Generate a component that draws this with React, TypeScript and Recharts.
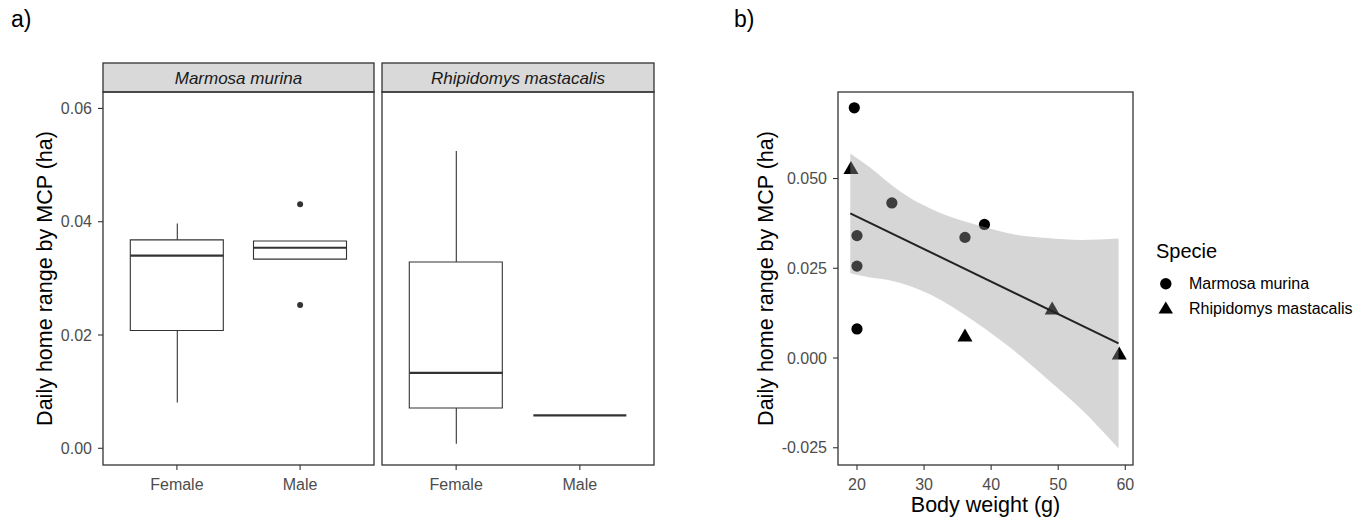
import React from 'react';
import { ComposedChart, Bar, Scatter, Area, Line, XAxis, YAxis } from 'recharts';

const FONT = '"Liberation Sans", Arial, sans-serif';
const INK = '#333333';
const TICK_TEXT = '#4D4D4D';

// panel a) - boxplots by sex, one facet per species
const sexes = ['Female', 'Male'];
const boxTicks = [0, 0.02, 0.04, 0.06];

const marmosaLow = [0.0081, 0.0334];
const marmosaQ1 = [0.0208, 0.0334];
const marmosaMedian = [0.034, 0.0354];
const marmosaQ3 = [0.0368, 0.0366];
const marmosaHigh = [0.0397, 0.0366];
const marmosaOutlierSex = ['Male', 'Male'];
const marmosaOutliers = [0.0431, 0.0253];

const rhipidomysLow = [0.0008, 0.0058];
const rhipidomysQ1 = [0.0071, 0.0058];
const rhipidomysMedian = [0.0133, 0.0058];
const rhipidomysQ3 = [0.0329, 0.0058];
const rhipidomysHigh = [0.0525, 0.0058];

// panel b) - range vs body weight
const marmosaWeight = [19.6, 25.2, 20, 20, 20, 36.1, 39];
const marmosaRange = [0.0697, 0.0432, 0.0341, 0.0256, 0.0081, 0.0336, 0.0372];
const rhipidomysWeight = [19.1, 36.1, 49.1, 59.1];
const rhipidomysRange = [0.0525, 0.0058, 0.0133, 0.0008];

const fitWeight = [19, 59];
const fitRange = [0.0403, 0.0041];

const bandWeight = [19, 22, 25, 28, 31, 34, 38.5, 43.3, 48.4, 53.4, 59];
const bandLow = [0.0236, 0.0224, 0.0216, 0.02, 0.0176, 0.0145, 0.0089, 0.0022, -0.0059, -0.0142, -0.0252];
const bandHigh = [0.057, 0.053, 0.0484, 0.0445, 0.0416, 0.0393, 0.0368, 0.0345, 0.0334, 0.0329, 0.0333];

const weightTicks = [20, 30, 40, 50, 60];
const rangeTicks = [-0.025, 0, 0.025, 0.05];

const boxRows = (low: number[], q1: number[], med: number[], q3: number[], high: number[]) =>
  sexes.map((sex, i) => ({ sex, whisker: [low[i], high[i]], box: [q1[i], q3[i]], median: med[i] }));

const WhiskerShape = (p: any) => {
  const cx = p.x + p.width / 2;
  return <line x1={cx} x2={cx} y1={p.y} y2={p.y + p.height} stroke={INK} strokeWidth={1.1} />;
};

const MedianShape = (p: any) => (
  <line x1={p.cx - 46.5} x2={p.cx + 46.5} y1={p.cy} y2={p.cy} stroke={INK} strokeWidth={2.2} />
);

const OutlierShape = (p: any) => <circle cx={p.cx} cy={p.cy} r={3} fill={INK} />;

const CircleShape = (p: any) => <circle cx={p.cx} cy={p.cy} r={5.6} fill="#000" />;

const TriangleShape = (p: any) => {
  const h = 13;
  const w = 15;
  const pts = `${p.cx},${p.cy - (2 * h) / 3} ${p.cx - w / 2},${p.cy + h / 3} ${p.cx + w / 2},${p.cy + h / 3}`;
  return <polygon points={pts} fill="#000" />;
};

const tickStyle = { fill: TICK_TEXT, fontSize: 16, fontFamily: FONT };

interface FacetProps {
  rows: any[];
  outliers?: { sex: string; value: number }[];
  showY: boolean;
  width: number;
}

function BoxFacet({ rows, outliers, showY, width }: FacetProps) {
  return (
    <ComposedChart
      width={width}
      height={523}
      data={rows}
      margin={{ top: 92, right: 2, bottom: 0, left: showY ? 0 : 2 }}
    >
      <XAxis
        xAxisId="box"
        type="category"
        dataKey="sex"
        allowDuplicatedCategory={false}
        padding={{ left: 12.3, right: 12.3 }}
        height={58}
        axisLine={false}
        tickLine={{ stroke: INK, strokeWidth: 1.1 }}
        tickSize={5}
        tickMargin={9}
        tick={tickStyle}
        interval={0}
      />
      <XAxis
        xAxisId="whisker"
        type="category"
        dataKey="sex"
        allowDuplicatedCategory={false}
        padding={{ left: 12.3, right: 12.3 }}
        hide
      />
      <YAxis
        type="number"
        domain={[-0.00295, 0.0629]}
        allowDataOverflow
        ticks={boxTicks}
        tickFormatter={(v: number) => v.toFixed(2)}
        hide={!showY}
        width={103}
        axisLine={false}
        tickLine={{ stroke: INK, strokeWidth: 1.1 }}
        tickSize={5}
        tickMargin={6}
        tick={tickStyle}
        label={{
          value: 'Daily home range by MCP (ha)',
          angle: -90,
          position: 'insideLeft',
          offset: 44,
          style: { textAnchor: 'middle', fontSize: 21.5, fill: '#000', fontFamily: FONT },
        }}
      />
      <Bar xAxisId="whisker" dataKey="whisker" barSize={10} shape={WhiskerShape} isAnimationActive={false} />
      <Bar xAxisId="box" dataKey="box" barSize={93} fill="#fff" stroke={INK} strokeWidth={1.1} isAnimationActive={false} />
      <Scatter xAxisId="box" dataKey="median" shape={MedianShape} isAnimationActive={false} />
      {outliers && outliers.length > 0 && (
        <Scatter xAxisId="box" data={outliers} dataKey="value" shape={OutlierShape} isAnimationActive={false} />
      )}
    </ComposedChart>
  );
}

function WeightPanel() {
  const bandRows = bandWeight.map((weight, i) => ({ weight, band: [bandLow[i], bandHigh[i]] }));
  const fitRows = fitWeight.map((weight, i) => ({ weight, range: fitRange[i] }));
  const marmosaPts = marmosaWeight.map((weight, i) => ({ weight, range: marmosaRange[i] }));
  const rhipPts = rhipidomysWeight.map((weight, i) => ({ weight, range: rhipidomysRange[i] }));

  return (
    <ComposedChart width={395} height={523} data={bandRows} margin={{ top: 92, right: 2, bottom: 0, left: 0 }}>
      <XAxis
        type="number"
        dataKey="weight"
        domain={[17.17, 61.15]}
        allowDataOverflow
        ticks={weightTicks}
        height={58}
        axisLine={false}
        tickLine={{ stroke: INK, strokeWidth: 1.1 }}
        tickSize={5}
        tickMargin={9}
        tick={tickStyle}
        label={{
          value: 'Body weight (g)',
          position: 'insideBottom',
          offset: 11,
          style: { fontSize: 21.5, fill: '#000', fontFamily: FONT },
        }}
      />
      <YAxis
        type="number"
        domain={[-0.0298, 0.0741]}
        allowDataOverflow
        ticks={rangeTicks}
        tickFormatter={(v: number) => v.toFixed(3)}
        width={98}
        axisLine={false}
        tickLine={{ stroke: INK, strokeWidth: 1.1 }}
        tickSize={5}
        tickMargin={6}
        tick={tickStyle}
        label={{
          value: 'Daily home range by MCP (ha)',
          angle: -90,
          position: 'insideLeft',
          offset: 25,
          style: { textAnchor: 'middle', fontSize: 21.5, fill: '#000', fontFamily: FONT },
        }}
      />
      <Scatter data={marmosaPts} dataKey="range" shape={CircleShape} isAnimationActive={false} />
      <Scatter data={rhipPts} dataKey="range" shape={TriangleShape} isAnimationActive={false} />
      <Area
        dataKey="band"
        type="monotone"
        fill="#999999"
        fillOpacity={0.4}
        stroke="none"
        isAnimationActive={false}
        {...({ zIndex: 700 } as any)}
      />
      <Line
        data={fitRows}
        dataKey="range"
        stroke="#222"
        strokeWidth={2}
        dot={false}
        isAnimationActive={false}
        {...({ zIndex: 710 } as any)}
      />
    </ComposedChart>
  );
}

export default function App() {
  const marmosaRows = boxRows(marmosaLow, marmosaQ1, marmosaMedian, marmosaQ3, marmosaHigh);
  const rhipRows = boxRows(rhipidomysLow, rhipidomysQ1, rhipidomysMedian, rhipidomysQ3, rhipidomysHigh);
  const outliers = marmosaOutliers.map((value, i) => ({ sex: marmosaOutlierSex[i], value }));

  return (
    <div style={{ position: 'absolute', left: 0, top: 0, width: 1361, height: 523, background: '#fff', fontFamily: FONT }}>
      <div style={{ position: 'absolute', left: 0, top: 0 }}>
        <BoxFacet rows={marmosaRows} outliers={outliers} showY width={376} />
      </div>
      <div style={{ position: 'absolute', left: 380, top: 0 }}>
        <BoxFacet rows={rhipRows} showY={false} width={276} />
      </div>
      <div style={{ position: 'absolute', left: 740, top: 0 }}>
        <WeightPanel />
      </div>

      <svg width={1361} height={523} style={{ position: 'absolute', left: 0, top: 0, pointerEvents: 'none' }} fontFamily={FONT}>
        <text x={11} y={27} fontSize={23} fill="#000">a)</text>
        <text x={734} y={27} fontSize={23} fill="#000">b)</text>

        {/* facet strips */}
        <rect x={103} y={63} width={271} height={29} fill="#D9D9D9" stroke={INK} strokeWidth={1.3} />
        <text x={238.5} y={84} fontSize={17} fontStyle="italic" fill="#1A1A1A" textAnchor="middle">Marmosa murina</text>
        <rect x={382} y={63} width={272} height={29} fill="#D9D9D9" stroke={INK} strokeWidth={1.3} />
        <text x={518} y={84} fontSize={17} fontStyle="italic" fill="#1A1A1A" textAnchor="middle">Rhipidomys mastacalis</text>

        {/* panel borders */}
        <rect x={103} y={92} width={271} height={373} fill="none" stroke={INK} strokeWidth={1.3} />
        <rect x={382} y={92} width={272} height={373} fill="none" stroke={INK} strokeWidth={1.3} />
        <rect x={838} y={92} width={295} height={373} fill="none" stroke={INK} strokeWidth={1.3} />

        {/* legend */}
        <text x={1156} y={258} fontSize={20} fill="#000">Specie</text>
        <circle cx={1165.8} cy={283.8} r={5.7} fill="#000" />
        <text x={1189} y={289} fontSize={16} fill="#000">Marmosa murina</text>
        <polygon points="1158.5,313.5 1173,313.5 1165.8,301.5" fill="#000" />
        <text x={1189} y={314} fontSize={16} fill="#000">Rhipidomys mastacalis</text>
      </svg>
    </div>
  );
}
